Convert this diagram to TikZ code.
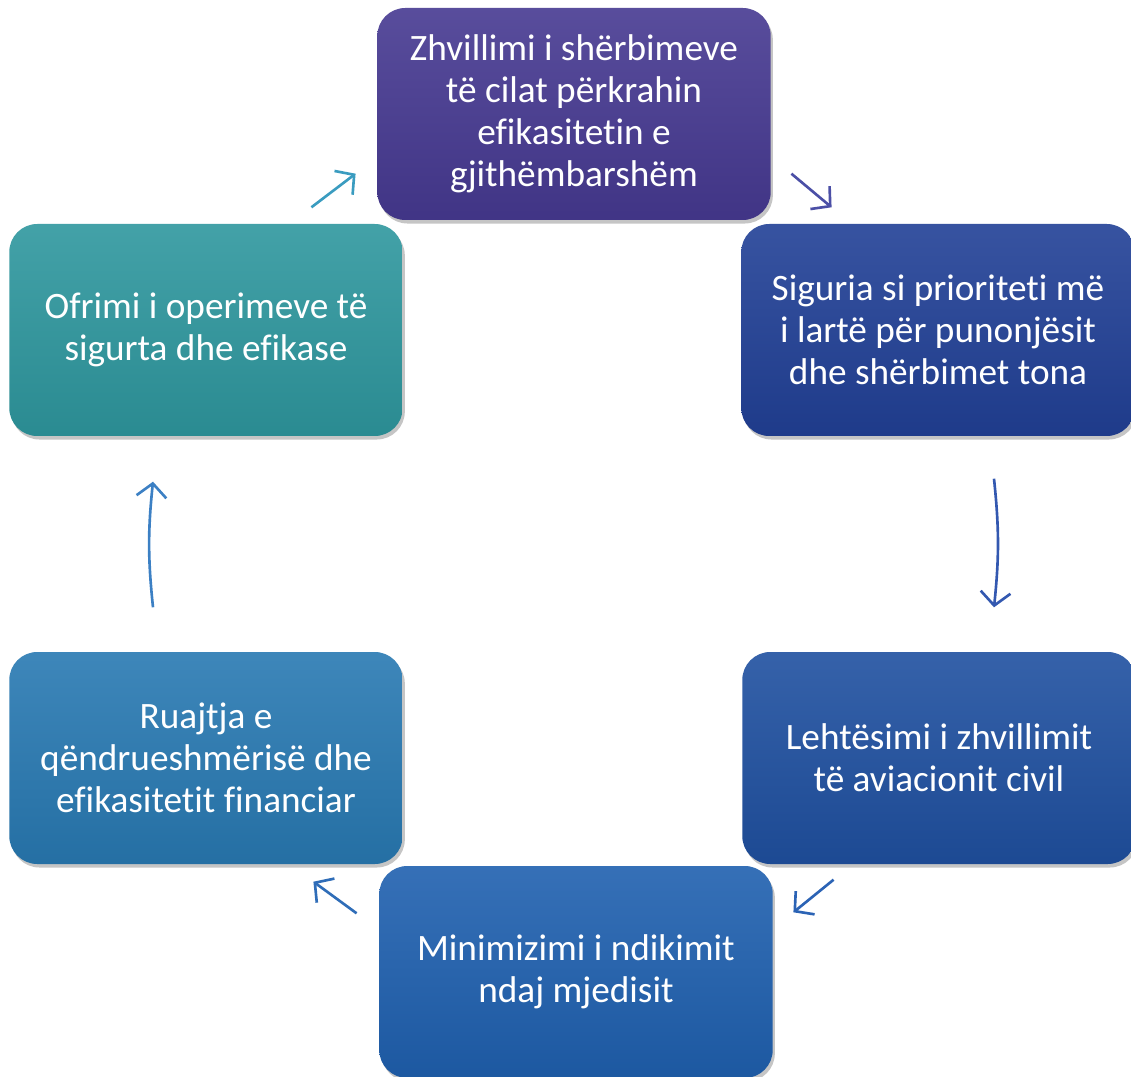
\documentclass[tikz,border=0pt]{standalone}
\usepackage{fontspec}
\setmainfont{Carlito}[Ligatures=NoCommon]
\usepackage{xcolor}
\usepackage{tikz}
\usetikzlibrary{arrows.meta, shadows}

\definecolor{boxA}{RGB}{70,57,145}
\definecolor{boxB}{RGB}{33,64,150}
\definecolor{boxC}{RGB}{31,80,160}
\definecolor{boxD}{RGB}{31,96,175}
\definecolor{boxE}{RGB}{40,121,178}
\definecolor{boxF}{RGB}{46,151,158}
\definecolor{arrA}{RGB}{58,156,192}
\definecolor{arrB}{RGB}{75,79,166}
\definecolor{arrC}{RGB}{51,88,176}
\definecolor{arrD}{RGB}{43,99,181}
\definecolor{arrE}{RGB}{47,109,184}
\definecolor{arrF}{RGB}{60,128,196}

\begin{document}
\begin{tikzpicture}[
    box/.style={rounded corners=0.28cm, minimum width=3.86cm, minimum height=2.12cm,
        text width=3.7cm, align=flush center, text=white, font=\fontsize{10.6}{12}\selectfont,
        top color=#1!90!white, bottom color=#1!92!black,
        drop shadow={shadow xshift=0.6pt, shadow yshift=-1pt, opacity=0.45}},
    cyc/.style={line width=0.75pt, -{Straight Barb[length=3.8pt, width=8.5pt]}}
]
    \useasboundingbox (0,0) rectangle (11.31,-10.77);
    \fill[white] (0,0) rectangle (11.31,-10.77);

    \node[box=boxA] (A) at (5.74,-1.14) {Zhvillimi i shërbimeve\\ të cilat përkrahin\\ efikasitetin e\\ gjithëmbarshëm};
    \node[box=boxB] (B) at (9.38,-3.30) {Siguria si prioriteti më\\ i lartë për punonjësit\\ dhe shërbimet tona};
    \node[box=boxC] (C) at (9.39,-7.58) {Lehtësimi i zhvillimit\\ të aviacionit civil};
    \node[box=boxD] (D) at (5.76,-9.72) {Minimizimi i ndikimit\\ ndaj mjedisit};
    \node[box=boxE] (E) at (2.06,-7.58) {Ruajtja e\\ qëndrueshmërisë dhe\\ efikasitetit financiar};
    \node[box=boxF] (F) at (2.06,-3.30) {Ofrimi i operimeve të\\ sigurta dhe efikase};

    \draw[cyc, arrA] ([shift={(-0.92,0.16)}]F.north east) -- ([shift={(-0.21,0.47)}]A.south west);
    \draw[cyc, arrB] ([shift={(0.20,0.47)}]A.south east) -- ([shift={(0.91,0.16)}]B.north west);
    \draw[cyc, arrC] ([shift={(0.56,-0.42)}]B.south) to[bend left=6] ([shift={(0.55,0.44)}]C.north);
    \draw[cyc, arrD] ([shift={(0.92,-0.15)}]C.south west) -- ([shift={(0.20,-0.47)}]D.north east);
    \draw[cyc, arrE] ([shift={(-0.22,-0.48)}]D.north west) -- ([shift={(-0.90,-0.17)}]E.south east);
    \draw[cyc, arrF] ([shift={(-0.53,0.44)}]E.north) to[bend left=6] ([shift={(-0.53,-0.45)}]F.south);
\end{tikzpicture}
\end{document}
